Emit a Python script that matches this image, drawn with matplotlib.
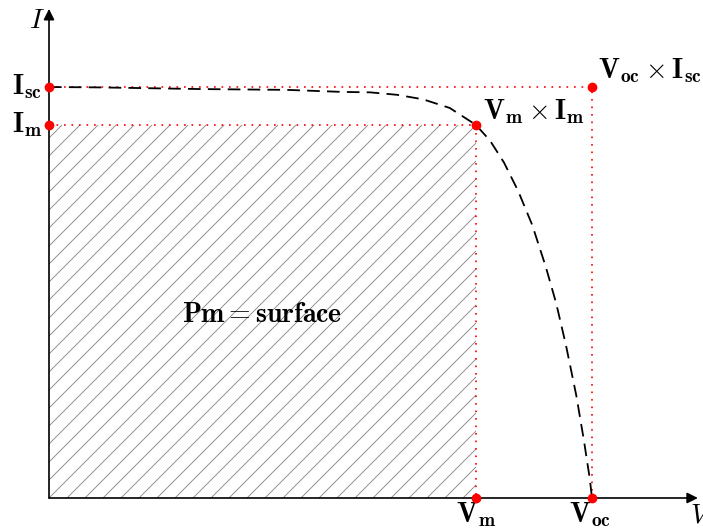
import matplotlib
matplotlib.use("Agg")
import matplotlib.pyplot as plt
from matplotlib.patches import Rectangle
from matplotlib.transforms import IdentityTransform

# normalised I-V characteristic of a solar cell (V / Voc, I / Isc)
v_curve = [0.0, 0.094, 0.278, 0.438, 0.541, 0.591, 0.641, 0.689, 0.738, 0.786,
           0.812, 0.838, 0.864, 0.890, 0.915, 0.934, 0.952, 0.971, 0.985, 0.996, 1.0]
i_curve = [1.0, 0.999, 0.995, 0.993, 0.988, 0.987, 0.981, 0.970, 0.949, 0.908,
           0.870, 0.816, 0.747, 0.664, 0.562, 0.474, 0.372, 0.250, 0.141, 0.046, 0.0]

v_oc = 1.0
i_sc = 1.0
v_m = 0.786
i_m = 0.908

plt.rcParams['mathtext.fontset'] = 'cm'

fig = plt.figure(figsize=(7.03, 5.29), dpi=100)
ax = fig.add_axes([0, 0, 1, 1])
ax.set_xlim(-49 / 543, 654 / 543)
ax.set_ylim(-31 / 411, 498 / 411)
ax.axis('off')

# maximum power surface, hatched with 45 degree lines every 18 px
rect = Rectangle((0, 0), v_m, i_m, facecolor='none', edgecolor='none', zorder=1)
ax.add_patch(rect)
x0, y0 = ax.transData.transform((0, 0))
x1, y1 = ax.transData.transform((v_m, i_m))
step = 18
c = x0 - y0
while c > x0 - y1:
    c -= step
while c < x1 - y0:
    ln, = ax.plot([y0 + c, y1 + c], [y0, y1], color='#808080', lw=0.6,
                  transform=IdentityTransform(), zorder=1)
    ln.set_clip_path(rect)
    c += step

# axes with arrows
for tip in [(1.195, 0), (0, 1.19)]:
    ax.annotate('', xy=tip, xytext=(0, 0),
                arrowprops=dict(arrowstyle='-|>', color='black', lw=1.2,
                                mutation_scale=16, shrinkA=0, shrinkB=0), zorder=3)

# guide lines
ax.plot([0, v_oc, v_oc], [i_sc, i_sc, 0], color='red', ls=(0, (1, 3.5)), lw=1.2, zorder=2)
ax.plot([0, v_m, v_m], [i_m, i_m, 0], color='red', ls=(0, (1, 3.5)), lw=1.2, zorder=2)

# I-V curve
ax.plot(v_curve, i_curve, color='black', ls=(0, (7, 4)), lw=1.3, zorder=2)

# remarkable points
ax.plot([0, 0, v_m, v_oc, v_m, v_oc], [i_sc, i_m, i_m, i_sc, 0, 0], 'o',
        color='red', ms=6, zorder=4)

fs = 20
ax.text(-0.022, 1.163, r'$I$', fontsize=fs, ha='center', va='center')
ax.text(1.18, -0.041, r'$V$', fontsize=fs, ha='left', va='center')
ax.text(-0.013, i_sc, r'$\mathbf{I_{sc}}$', fontsize=fs, ha='right', va='center')
ax.text(-0.013, i_m, r'$\mathbf{I_{m}}$', fontsize=fs, ha='right', va='center')
ax.text(v_m, -0.041, r'$\mathbf{V_{m}}$', fontsize=fs, ha='center', va='center')
ax.text(v_oc - 0.004, -0.041, r'$\mathbf{V_{oc}}$', fontsize=fs, ha='center', va='center')
ax.text(0.799, 0.939, r'$\mathbf{V_{m}} \times \mathbf{I_{m}}$',
        fontsize=fs, ha='left', va='center')
ax.text(1.011, 1.039, r'$\mathbf{V_{oc}} \times \mathbf{I_{sc}}$',
        fontsize=fs, ha='left', va='center')
ax.text(0.392, 0.448, r'$\mathbf{Pm = surface}$', fontsize=fs, ha='center', va='center')

fig.savefig('out.png', dpi=100)
